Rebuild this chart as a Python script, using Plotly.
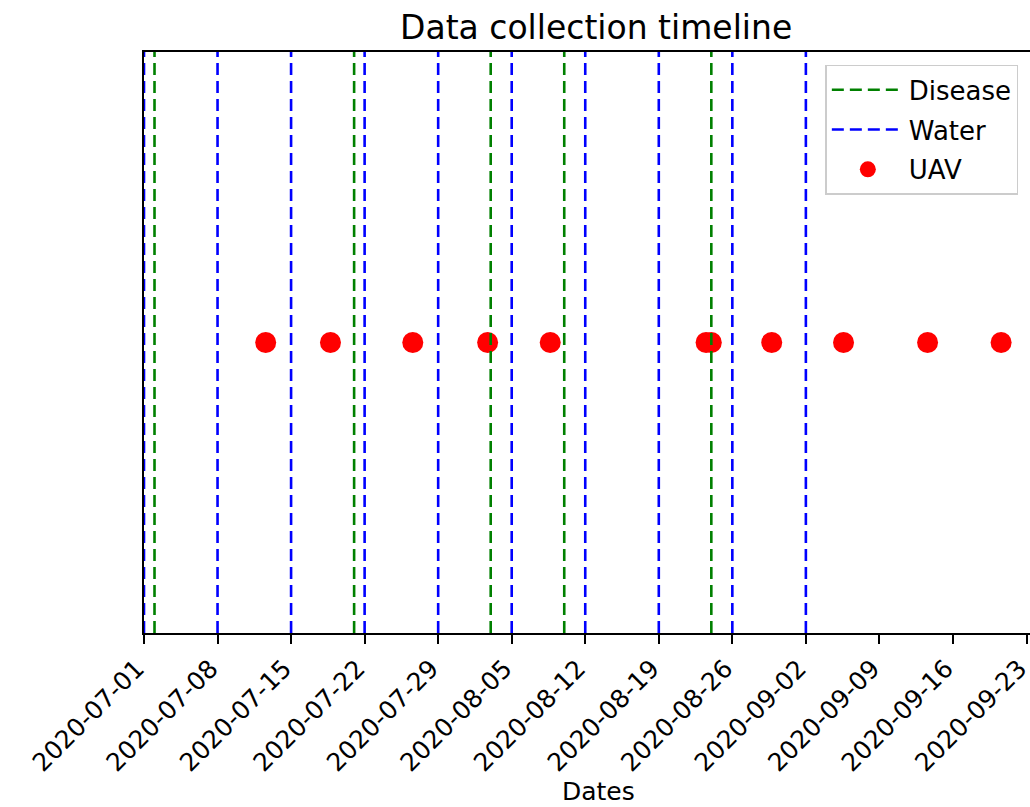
import plotly.graph_objects as go

# Field campaign dates
disease_dates = ["2020-07-02", "2020-07-21", "2020-08-03", "2020-08-10", "2020-08-24"]
water_dates = ["2020-07-01", "2020-07-08", "2020-07-15", "2020-07-22", "2020-07-29",
               "2020-08-05", "2020-08-12", "2020-08-19", "2020-08-26", "2020-09-02"]
uav_dates = ["2020-07-12 14:00", "2020-07-18 18:00", "2020-07-26 14:00", "2020-08-02 17:00",
             "2020-08-08 16:00", "2020-08-23 12:00", "2020-08-24 00:00", "2020-08-29 18:00",
             "2020-09-05 14:00", "2020-09-13 14:00", "2020-09-20 14:00"]
uav_level = [0] * len(uav_dates)

y_low, y_high = -1.0, 1.0
x_start, x_end = "2020-07-01", "2020-09-23 08:00"


def vlines(dates):
    xs, ys = [], []
    for d in dates:
        xs += [d, d, None]
        ys += [y_low, y_high, None]
    return xs, ys


fig = go.Figure()

fig.add_trace(go.Scatter(
    x=uav_dates, y=uav_level, mode="markers", name="UAV",
    legendrank=3, legendgroup="uav",
    marker=dict(color="#ff0000", size=21, line=dict(width=0)),
))

dx, dy = vlines(disease_dates)
fig.add_trace(go.Scatter(
    x=dx, y=dy, mode="lines", name="Disease",
    legendrank=1, legendgroup="disease",
    line=dict(color="#008000", width=2.6, dash="12px,6px"),
))

wx, wy = vlines(water_dates)
fig.add_trace(go.Scatter(
    x=wx, y=wy, mode="lines", name="Water",
    legendrank=2, legendgroup="water",
    line=dict(color="#0000ff", width=2.6, dash="12px,6px"),
))

font_family = "DejaVu Sans"

fig.update_layout(
    width=1030, height=807,
    margin=dict(l=144, r=0, t=52, b=174),
    paper_bgcolor="white", plot_bgcolor="white",
    font=dict(family=font_family, size=26, color="black"),
    showlegend=True,
    legend=dict(
        x=0.769, y=0.978, xanchor="left", yanchor="top",
        bgcolor="white", bordercolor="#cccccc", borderwidth=1.5,
        font=dict(size=26), itemwidth=72, tracegroupgap=3,
    ),
    xaxis=dict(
        type="date", range=[x_start, x_end], automargin=False,
        tick0="2020-07-01", dtick=7 * 24 * 3600 * 1000, tickformat="%Y-%m-%d",
        tickangle=-45, ticks="outside", ticklen=9, tickwidth=1.8, tickcolor="black",
        ticklabeloverflow="allow", ticklabelshift=-7,
        showline=True, linecolor="black", linewidth=2, mirror=True,
        showgrid=False, zeroline=False,
        tickfont=dict(size=25, family=font_family),
    ),
    yaxis=dict(
        range=[y_low, y_high], showticklabels=False, ticks="", automargin=False,
        showline=True, linecolor="black", linewidth=2, mirror=False,
        showgrid=False, zeroline=False,
    ),
    annotations=[
        dict(text="Data collection timeline", xref="paper", yref="paper",
             x=0.51, y=1 + 24 / 581, xanchor="center", yanchor="middle",
             showarrow=False, font=dict(size=33, family=font_family)),
        dict(text="Dates", xref="paper", yref="paper",
             x=0.513, y=-158 / 581, xanchor="center", yanchor="middle",
             showarrow=False, font=dict(size=25, family=font_family)),
    ],
)

fig.write_html("out.html")
